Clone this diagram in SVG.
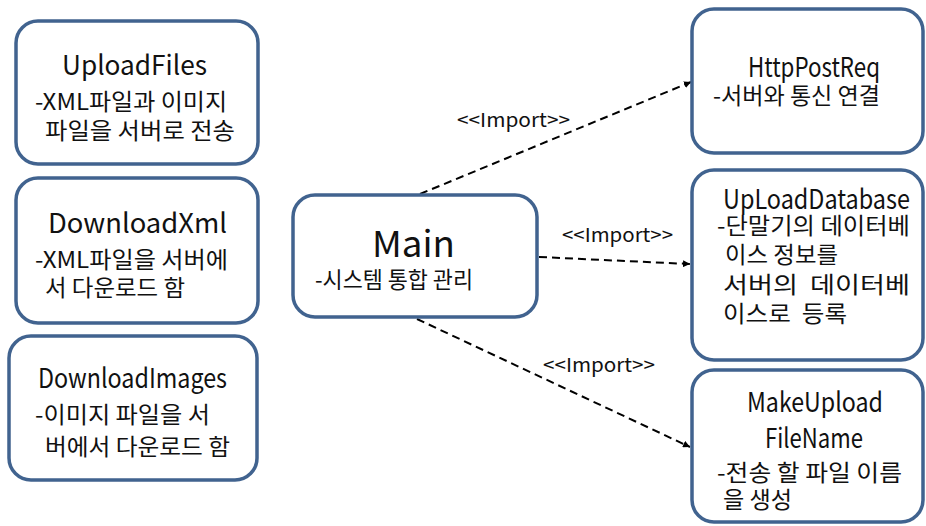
<svg xmlns="http://www.w3.org/2000/svg" width="926" height="526" viewBox="0 0 926 526">
<defs>
<style>
.box{fill:#fff;stroke:#41638F;stroke-width:3.5}
.t{font-family:"Noto Sans CJK KR","Noto Sans",sans-serif;fill:#111}
.title{font-size:27px}
.desc{font-size:23px}
.lbl{font-family:"Noto Sans CJK KR","Noto Sans",sans-serif;font-size:19px;fill:#111}
.con{stroke:#000;stroke-width:2;stroke-dasharray:8 5;fill:none}
</style>
<marker id="ah" viewBox="0 0 10 10" refX="10" refY="5" markerWidth="7" markerHeight="7" markerUnits="userSpaceOnUse" orient="auto">
<path d="M0,0 L10,5 L0,10 z" fill="#000"/>
</marker>
</defs>
<rect width="926" height="526" fill="#fff"/>
<g id="connectors">
<line class="con" x1="420" y1="194" x2="691" y2="82" marker-end="url(#ah)"/>
<line class="con" x1="539" y1="257" x2="690" y2="264" marker-end="url(#ah)"/>
<line class="con" x1="417" y1="319" x2="690" y2="447" marker-end="url(#ah)"/>
<text class="lbl" x="457" y="127" textLength="113" lengthAdjust="spacingAndGlyphs">&lt;&lt;Import&gt;&gt;</text>
<text class="lbl" x="562" y="242" textLength="111" lengthAdjust="spacingAndGlyphs">&lt;&lt;Import&gt;&gt;</text>
<text class="lbl" x="543" y="372" textLength="112" lengthAdjust="spacingAndGlyphs">&lt;&lt;Import&gt;&gt;</text>
</g>
<g id="UploadFiles">
<rect class="box" x="16" y="21" width="242" height="143" rx="22"/>
<text class="t title" x="62" y="75" textLength="145" lengthAdjust="spacingAndGlyphs">UploadFiles</text>
<text class="t desc" x="35" y="110" textLength="192" lengthAdjust="spacingAndGlyphs">-XML파일과 이미지</text>
<text class="t desc" x="45" y="139" textLength="190" lengthAdjust="spacingAndGlyphs">파일을 서버로 전송</text>
</g>
<g id="DownloadXml">
<rect class="box" x="16" y="178" width="242" height="145" rx="22"/>
<text class="t title" x="48" y="233" textLength="179" lengthAdjust="spacingAndGlyphs">DownloadXml</text>
<text class="t desc" x="35" y="268" textLength="193" lengthAdjust="spacingAndGlyphs">-XML파일을 서버에</text>
<text class="t desc" x="45" y="296" textLength="140" lengthAdjust="spacingAndGlyphs">서 다운로드 함</text>
</g>
<g id="DownloadImages">
<rect class="box" x="9" y="336" width="248" height="144" rx="22"/>
<text class="t title" x="38" y="388" textLength="189" lengthAdjust="spacingAndGlyphs">DownloadImages</text>
<text class="t desc" x="35" y="423" textLength="175" lengthAdjust="spacingAndGlyphs">-이미지 파일을 서</text>
<text class="t desc" x="45" y="455" textLength="185" lengthAdjust="spacingAndGlyphs">버에서 다운로드 함</text>
</g>
<g id="Main">
<rect class="box" x="293" y="195" width="244" height="122" rx="22"/>
<text class="t" x="372" y="257" font-size="36" textLength="83" lengthAdjust="spacingAndGlyphs">Main</text>
<text class="t desc" x="315" y="288" textLength="158" lengthAdjust="spacingAndGlyphs">-시스템 통합 관리</text>
</g>
<g id="HttpPostReq">
<rect class="box" x="692" y="9" width="231" height="144" rx="22"/>
<text class="t title" x="748" y="77" textLength="132" lengthAdjust="spacingAndGlyphs">HttpPostReq</text>
<text class="t desc" x="713" y="104" textLength="167" lengthAdjust="spacingAndGlyphs">-서버와 통신 연결</text>
</g>
<g id="UpLoadDatabase">
<rect class="box" x="692" y="170" width="231" height="190" rx="22"/>
<text class="t title" x="723" y="209" textLength="187" lengthAdjust="spacingAndGlyphs">UpLoadDatabase</text>
<text class="t desc" x="717" y="234" textLength="193" lengthAdjust="spacingAndGlyphs">-단말기의 데이터베</text>
<text class="t desc" x="725" y="263" textLength="113" lengthAdjust="spacingAndGlyphs">이스 정보를</text>
<text class="t desc" x="723" y="293" textLength="187" lengthAdjust="spacingAndGlyphs" xml:space="preserve">서버의  데이터베</text>
<text class="t desc" x="723" y="322" textLength="124" lengthAdjust="spacingAndGlyphs" xml:space="preserve">이스로  등록</text>
</g>
<g id="MakeUploadFileName">
<rect class="box" x="692" y="370" width="231" height="152" rx="22"/>
<text class="t title" x="747" y="412" textLength="136" lengthAdjust="spacingAndGlyphs">MakeUpload</text>
<text class="t title" x="765" y="448" textLength="98" lengthAdjust="spacingAndGlyphs">FileName</text>
<text class="t desc" x="717" y="481" textLength="185" lengthAdjust="spacingAndGlyphs">-전송 할 파일 이름</text>
<text class="t desc" x="723" y="508" textLength="69" lengthAdjust="spacingAndGlyphs">을 생성</text>
</g>
</svg>
